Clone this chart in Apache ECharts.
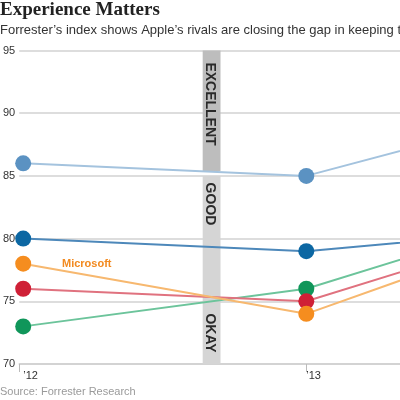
<!DOCTYPE html>
<html>
<head>
<meta charset="utf-8">
<script src="https://cdn.jsdelivr.net/npm/echarts@6/dist/echarts.min.js"></script>
<style>html,body{margin:0;padding:0;background:#fff}#c{width:400px;height:400px}</style>
</head>
<body>
<div id="c"></div>
<script>
// ---- data ----
var years = [2012, 2013, 2014];
var tickLabels = ['’12', '’13'];
var seriesNames = ['Apple', 'Company B', 'Company C', 'Company D', 'Microsoft'];
var lightBlueValues = [86, 85, 91];
var darkBlueValues = [80, 79, 81];
var greenValues = [73, 76, 83];
var redValues = [76, 75, 82];
var orangeValues = [78, 74, 82];
var bandLabels = ['EXCELLENT', 'GOOD', 'OKAY'];
var yTicks = [70, 75, 80, 85, 90, 95];

// ---- layout ----
var pxPerYear = 285.5;
var gridLeft = 16;
var xMin = 2012 - 4 / pxPerYear;
var xMax = xMin + (400 - gridLeft) / pxPerYear;

function pairs(vals) {
  return years.map(function (y, i) { return [y, vals[i]]; });
}

function lineSeries(name, vals, marker, line) {
  return {
    name: name,
    type: 'line',
    data: pairs(vals),
    symbol: 'circle',
    symbolSize: 16,
    showAllSymbol: true,
    itemStyle: { color: marker },
    lineStyle: { color: line, width: 2 },
    emphasis: { disabled: true },
    z: 3,
    animation: false
  };
}

var chart = echarts.init(document.getElementById('c'), null, { renderer: 'canvas' });
chart.setOption({
  animation: false,
  title: [
    { text: 'Experience Matters', left: 0, top: 1, padding: 0,
      textStyle: { fontFamily: 'Liberation Serif', fontWeight: 'bold', fontSize: 19, color: '#222' } },
    { text: 'Forrester’s index shows Apple’s rivals are closing the gap in keeping their customers happy.', left: 0, top: 24, padding: 0,
      textStyle: { fontFamily: 'Liberation Sans', fontWeight: 'normal', fontSize: 13, color: '#333' } },
    { text: 'Source: Forrester Research', left: 0, top: 386, padding: 0,
      textStyle: { fontFamily: 'Liberation Sans', fontWeight: 'normal', fontSize: 11, color: '#9a9a9a' } }
  ],
  grid: { left: gridLeft, right: 0, top: 50.5, bottom: 36, containLabel: false },
  xAxis: {
    type: 'value', min: xMin, max: xMax,
    axisLine: { show: true, lineStyle: { color: '#cfcfcf', width: 1.5 } },
    axisTick: { show: true, customValues: [xMin, years[1]], length: 8, lineStyle: { color: '#bbb', width: 1 } },
    axisLabel: {
      customValues: [years[0], years[1]],
      formatter: function (v) { return tickLabels[years.indexOf(Math.round(v))]; },
      align: 'left', margin: 6,
      fontFamily: 'Liberation Sans', fontSize: 11, color: '#333'
    },
    splitLine: { show: false }
  },
  yAxis: {
    type: 'value', min: yTicks[0], max: yTicks[yTicks.length - 1], interval: 5,
    axisLine: { show: false }, axisTick: { show: false },
    axisLabel: { margin: 4, fontFamily: 'Liberation Sans', fontSize: 11, color: '#333' },
    splitLine: { show: true, lineStyle: { color: '#d2d2d2', width: 1.5 } }
  },
  series: [
    {
      type: 'line', data: [], z: 1, silent: true,
      markArea: {
        silent: true,
        data: [
          [{ coord: [2012.634, 95], itemStyle: { color: '#bdbdbd' } }, { coord: [2012.697, 85.4] }],
          [{ coord: [2012.634, 85], itemStyle: { color: '#d5d5d5' } }, { coord: [2012.697, 70] }]
        ]
      }
    },
    lineSeries(seriesNames[0], lightBlueValues, '#5b92c2', '#a4c3de'),
    lineSeries(seriesNames[1], darkBlueValues, '#0c67a3', '#4d88ba'),
    lineSeries(seriesNames[2], greenValues, '#10965a', '#6cc49b'),
    lineSeries(seriesNames[3], redValues, '#cf2036', '#e0727f'),
    lineSeries(seriesNames[4], orangeValues, '#f58d1f', '#f7b86f')
  ],
  graphic: [
    { type: 'text', x: 210, y: 104, rotation: -Math.PI / 2, z: 10,
      style: { text: bandLabels[0], font: 'bold 14px "Liberation Sans"', fill: '#2a2a2a', align: 'center', verticalAlign: 'middle' } },
    { type: 'text', x: 210, y: 204, rotation: -Math.PI / 2, z: 10,
      style: { text: bandLabels[1], font: 'bold 14px "Liberation Sans"', fill: '#2a2a2a', align: 'center', verticalAlign: 'middle' } },
    { type: 'text', x: 210, y: 333, rotation: -Math.PI / 2, z: 10,
      style: { text: bandLabels[2], font: 'bold 14px "Liberation Sans"', fill: '#2a2a2a', align: 'center', verticalAlign: 'middle' } },
    { type: 'text', x: 62, y: 264, z: 10,
      style: { text: seriesNames[4], font: 'bold 11px "Liberation Sans"', fill: '#f28a20', align: 'left', verticalAlign: 'middle' } }
  ]
});
</script>
</body>
</html>
